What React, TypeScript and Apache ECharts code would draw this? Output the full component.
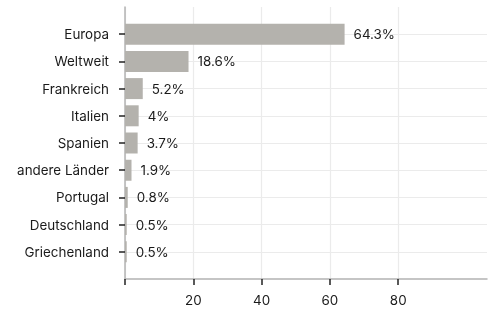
import React, { useEffect, useRef } from "react";
import * as echarts from "echarts";

const categories = [
  "Europa",
  "Weltweit",
  "Frankreich",
  "Italien",
  "Spanien",
  "andere Länder",
  "Portugal",
  "Deutschland",
  "Griechenland",
];
const values = [64.3, 18.6, 5.2, 4, 3.7, 1.9, 0.8, 0.5, 0.5];
const tickValues = [0, 20, 40, 60, 80];
const labelValues = [20, 40, 60, 80];

export default function App() {
  const ref = useRef<HTMLDivElement>(null);
  useEffect(() => {
    if (!ref.current) return;
    const chart = echarts.init(ref.current, undefined, { renderer: "svg" });
    const cats = [" ", ...categories, "  "];
    const data: any[] = [null, ...values, null];
    const isReal = (_i: number, v: string) => v.trim() !== "";
    const fs = 13.4;
    chart.setOption({
      animation: false,
      textStyle: { fontFamily: "Inter" },
      grid: { left: 125, right: 2, top: 7, bottom: 31, containLabel: false },
      xAxis: {
        type: "value",
        min: 0,
        max: 106,
        interval: 20,
        axisLine: { show: true, onZero: false, lineStyle: { color: "#b3b3b3", width: 1.5 } },
        axisTick: {
          show: true,
          customValues: tickValues,
          length: 6,
          lineStyle: { color: "#222", width: 1.5 },
        },
        axisLabel: {
          customValues: labelValues,
          color: "#1a1a1a",
          fontSize: fs,
          margin: 14,
        },
        splitLine: { show: true, lineStyle: { color: "#ebebeb", width: 1.2 } },
      },
      yAxis: {
        type: "category",
        data: cats,
        inverse: true,
        boundaryGap: false,
        axisLine: { show: true, lineStyle: { color: "#b3b3b3", width: 1.5 } },
        axisTick: {
          show: true,
          interval: isReal,
          length: 6,
          lineStyle: { color: "#222", width: 1.5 },
        },
        axisLabel: {
          interval: isReal,
          color: "#1a1a1a",
          fontSize: fs,
          margin: 16,
        },
        splitLine: {
          show: true,
          interval: isReal,
          lineStyle: { color: "#ebebeb", width: 1.2 },
        },
      },
      series: [
        {
          type: "bar",
          data,
          barWidth: 21,
          itemStyle: { color: "#b4b2ad" },
          label: {
            show: true,
            position: "right",
            distance: 9,
            color: "#1a1a1a",
            fontSize: fs,
            formatter: (p: any) => `${p.value}%`,
          },
        },
      ],
    });
    return () => chart.dispose();
  }, []);
  return (
    <div
      ref={ref}
      style={{ position: "fixed", left: 0, top: 0, width: 489, height: 310 }}
    />
  );
}
